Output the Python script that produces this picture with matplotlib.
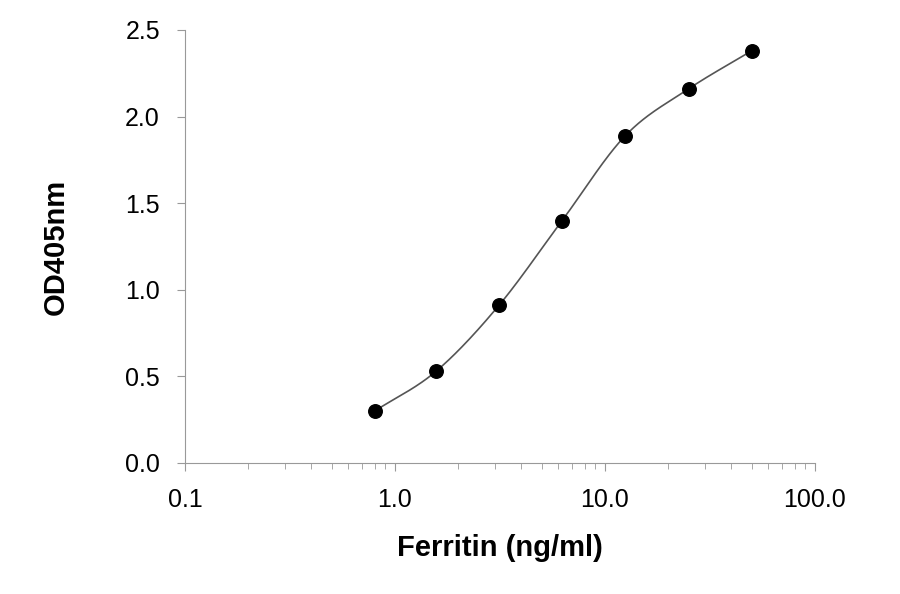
import numpy as np
import matplotlib
matplotlib.use("Agg")
import matplotlib.pyplot as plt

plt.rcParams['font.family'] = ['Liberation Sans', 'DejaVu Sans']

conc = [0.80, 1.57, 3.125, 6.25, 12.5, 25, 50]
od = [0.30, 0.53, 0.91, 1.40, 1.89, 2.16, 2.38]
xticks = [0.1, 1.0, 10.0, 100.0]
xticklabels = ["0.1", "1.0", "10.0", "100.0"]
yticks = [0.0, 0.5, 1.0, 1.5, 2.0, 2.5]

def catmull(xs, ys, n=40):
    xs = np.asarray(xs, float); ys = np.asarray(ys, float)
    P = np.column_stack([xs, ys])
    P = np.vstack([2*P[0]-P[1], P, 2*P[-1]-P[-2]])
    out = []
    for i in range(1, len(P)-2):
        p0, p1, p2, p3 = P[i-1], P[i], P[i+1], P[i+2]
        t = np.linspace(0, 1, n)[:, None]
        pt = 0.5*((2*p1) + (-p0+p2)*t + (2*p0-5*p1+4*p2-p3)*t**2 + (-p0+3*p1-3*p2+p3)*t**3)
        out.append(pt)
    out = np.vstack(out)
    return out[:, 0], out[:, 1]

fig = plt.figure(figsize=(9, 5.94), dpi=100)
ax = fig.add_axes([185/900, 1-463/594, 630/900, 433/594])
lx, ly = catmull(np.log10(conc), od)
ax.plot(10**lx, ly, color="#555555", lw=1.2, zorder=2)
ax.scatter(conc, od, s=95, color="black", zorder=3)
ax.set_xscale("log")
ax.set_xlim(0.1, 100)
ax.set_ylim(0, 2.5)
ax.set_xticks(xticks)
ax.set_xticklabels(xticklabels)
ax.set_yticks(yticks)
ax.set_yticklabels([f"{v:.1f}" for v in yticks])
for s in ["top", "right"]:
    ax.spines[s].set_visible(False)
for s in ["left", "bottom"]:
    ax.spines[s].set_color("#999999")
ax.tick_params(axis="both", which="both", color="#999999", labelsize=18, direction="out")
ax.tick_params(axis="x", which="major", length=6, pad=12)
ax.tick_params(axis="x", which="minor", length=4)
ax.tick_params(axis="y", length=6, pad=12)
ax.set_xlabel("Ferritin (ng/ml)", fontsize=21, fontweight="bold", labelpad=16)
ax.set_ylabel("OD405nm", fontsize=21, fontweight="bold", labelpad=40)
fig.savefig("out.png", dpi=100)
